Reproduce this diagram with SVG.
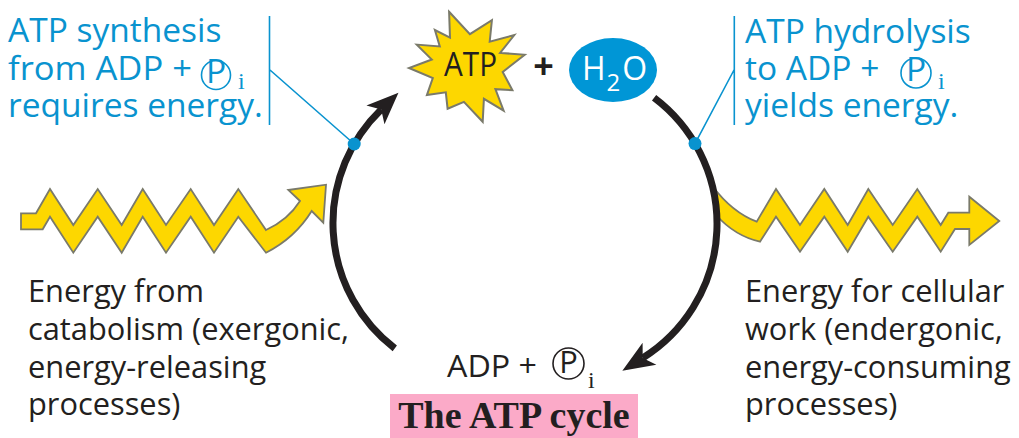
<svg xmlns="http://www.w3.org/2000/svg" width="1019" height="438" viewBox="0 0 1019 438">
<style>
.blue{font-family:"Open Sans","Noto Sans",sans-serif;font-size:33.5px;fill:#0993cf}
.dark{font-family:"Open Sans","Noto Sans",sans-serif;font-size:30.8px;fill:#231f20}
.sub{font-family:"Liberation Serif",serif;font-size:24px}
.zig{fill:#fdd700;stroke:#7a7a6a;stroke-width:1.8;stroke-linejoin:miter}
.arc{fill:none;stroke:#231f20;stroke-width:7}
.lead{fill:none;stroke:#0993cf;stroke-width:1.6}
.dot{fill:#0993cf}
</style>
<defs>
<marker id="ah" markerUnits="userSpaceOnUse" orient="auto" refX="0" refY="0" markerWidth="40" markerHeight="40" overflow="visible">
<path d="M24,0 L-8,-13 L0,0 L-8,13 Z" fill="#231f20"/>
</marker>
</defs>
<rect width="1019" height="438" fill="#ffffff"/>

<g id="energy-in">
<path class="zig" d="M21,213.3 L36,213.3 L50,189 L73.3,225 L97.7,189 L121.7,225 L142.7,189 L166,225 L190.7,189 L214,225 L238.3,189 L266,230 Q288,220 300,201 L288.3,190 L326,184.7 L323.3,222.7 L311.7,211 Q295,238 266,252.7 L238.3,216.7 L214,252.7 L190.7,216.7 L166,252.7 L142.7,216.7 L121.7,252.7 L97.7,216.7 L73.3,252.7 L50,216.7 L42.7,229.3 L21,229.3 Z"/>
<text class="dark" x="28" y="302">Energy from</text>
<text class="dark" x="28" y="340">catabolism (exergonic,</text>
<text class="dark" x="28" y="378">energy-releasing</text>
<text class="dark" x="28" y="415">processes)</text>
</g>

<g id="energy-out">
<path class="zig" d="M713,186.7 Q732,212 756.7,221.7 L776,189 L800,225 L824.3,189 L847.7,225 L868.3,189 L892.7,225 L917.3,189 L940.7,225 L948.3,212.7 L969.3,212.7 L969.3,196.7 L999.3,221 L969.3,245 L969.3,229 L955,229 L940.7,251.7 L917.3,216.7 L892.7,251.7 L868.3,216.7 L847.7,251.7 L824.3,216.7 L800,251.7 L776,216.7 L760,241.7 Q735,236 716,215 Z"/>
<text class="dark" x="745" y="302">Energy for cellular</text>
<text class="dark" x="745" y="340">work (endergonic,</text>
<text class="dark" x="745" y="378">energy-consuming</text>
<text class="dark" x="745" y="415">processes)</text>
</g>

<g id="atp">
<polygon points="449.1,11.8 469.9,34.1 491.9,20.2 489.7,41.7 514.3,35.1 500.1,52.9 524.7,54.7 502.7,72 512.4,90.2 495.4,89.2 503.6,110.7 483.9,98.8 482.7,121.8 463.9,101.9 447.6,108.7 445.8,92.3 426.9,95.1 432.8,78.1 409,68 431.8,59.5 416.8,44.6 439.8,46.5 434.9,30 450,37.6" fill="#fdd700" stroke="#7a7a6a" stroke-width="2" stroke-linejoin="miter"/>
<text x="444" y="76" font-family="'Open Sans','Noto Sans',sans-serif" font-size="32" textLength="53" lengthAdjust="spacingAndGlyphs" fill="#231f20">ATP</text>
</g>

<g id="plus">
<text x="543.5" y="79" text-anchor="middle" font-family="'Open Sans','Noto Sans',sans-serif" font-size="36" font-weight="bold" fill="#231f20">+</text>
</g>

<g id="h2o">
<ellipse cx="613" cy="70" rx="44" ry="32" fill="#0096d6"/>
<text x="582" y="80" font-family="'Open Sans','Noto Sans',sans-serif" font-size="32" fill="#ffffff">H<tspan font-size="24" dx="1" dy="11">2</tspan><tspan dx="2" dy="-11">O</tspan></text>
</g>

<g id="adp">
<text class="dark" x="447" y="377" font-size="31" textLength="90" lengthAdjust="spacingAndGlyphs">ADP +</text>
<circle cx="568.5" cy="363.5" r="15.5" fill="none" stroke="#231f20" stroke-width="1.6"/>
<text class="dark" x="568.5" y="373" font-size="26" text-anchor="middle">P</text>
<text class="sub" x="588" y="388" fill="#231f20">i</text>
</g>

<g id="title">
<rect x="390" y="394" width="248" height="44" fill="#fbaac8"/>
<text x="514" y="428" text-anchor="middle" font-family="'Liberation Serif',serif" font-size="38" font-weight="bold" fill="#231f20">The ATP cycle</text>
</g>

<g id="synthesis-label">
<text class="blue" x="8" y="42">ATP synthesis</text>
<text class="blue" x="8" y="80" textLength="184" lengthAdjust="spacingAndGlyphs">from ADP +</text>
<text class="blue" x="8" y="117">requires energy.</text>
<circle cx="216" cy="75" r="14.5" fill="none" stroke="#0993cf" stroke-width="1.6"/>
<text class="blue" x="216" y="83" font-size="23" text-anchor="middle">P</text>
<text class="sub" x="238" y="89" fill="#0993cf">i</text>
</g>

<g id="hydrolysis-label">
<text class="blue" x="745" y="43">ATP hydrolysis</text>
<text class="blue" x="745" y="80">to ADP +</text>
<text class="blue" x="745" y="117">yields energy.</text>
<circle cx="916" cy="73" r="15" fill="none" stroke="#0993cf" stroke-width="1.6"/>
<text class="blue" x="916" y="81" font-size="23" text-anchor="middle">P</text>
<text class="sub" x="938" y="89" fill="#0993cf">i</text>
</g>

<g id="connectors">
<path class="arc" d="M394.8,348.4 A158,158 0 0 1 381.2,109.4" marker-end="url(#ah)"/>
<path class="arc" d="M654.1,97.8 A158,158 0 0 1 642.7,358" marker-end="url(#ah)"/>
<path class="lead" d="M269.5,16 V125 M270,70 L354.2,144"/>
<path class="lead" d="M734.3,16 V125 M734,70 L695,143.6"/>
<circle class="dot" cx="354.2" cy="144" r="6.5"/>
<circle class="dot" cx="695" cy="143.6" r="6.5"/>
</g>
</svg>
